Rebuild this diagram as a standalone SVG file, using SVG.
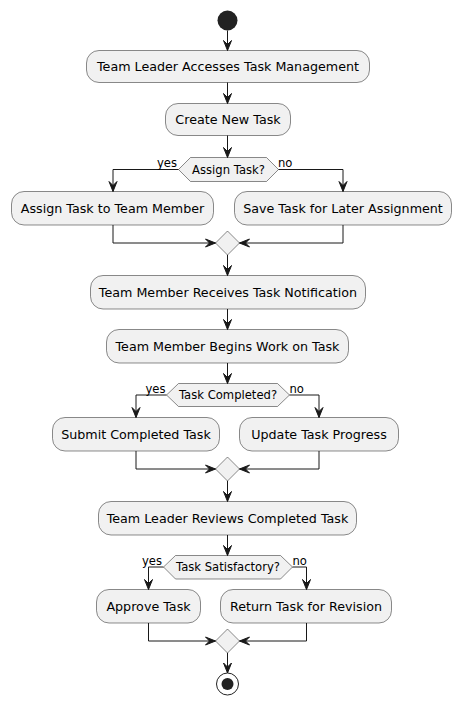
<svg xmlns="http://www.w3.org/2000/svg" width="461" height="705" viewBox="0 0 461 705">
<defs>
<style>
.box{fill:#F1F1F1;stroke:#181818;stroke-width:0.5}
.t{font-family:"DejaVu Sans",sans-serif;font-size:12.7px;fill:#000;text-anchor:middle}
.d{font-family:"DejaVu Sans",sans-serif;font-size:11.6px;fill:#000;text-anchor:middle}
.l{font-family:"DejaVu Sans",sans-serif;font-size:11.6px;fill:#000}
.c{fill:none;stroke:#181818;stroke-width:1}
.ah{fill:#181818;stroke:#181818;stroke-width:1}
</style>
</defs>
<rect width="461" height="705" fill="#FFFFFF"/>
<g id="start"><circle cx="227.5" cy="20.5" r="10" fill="#222222"/></g>
<g id="n1"><rect class="box" x="86.5" y="50.5" width="283" height="32" rx="12.5"/><text class="t" x="228" y="71">Team Leader Accesses Task Management</text></g>
<g id="n2"><rect class="box" x="165.5" y="103.5" width="125" height="32" rx="12.5"/><text class="t" x="228" y="124">Create New Task</text></g>
<g id="d1"><polygon class="box" points="178.5,169.5 190.5,157.5 266.5,157.5 278.5,169.5 266.5,181.5 190.5,181.5"/><text class="d" x="228.5" y="173.5">Assign Task?</text></g>
<g id="n3"><rect class="box" x="11.5" y="191.5" width="202" height="33.5" rx="12.5"/><text class="t" x="112.5" y="212.5">Assign Task to Team Member</text></g>
<g id="n4"><rect class="box" x="234.5" y="191.5" width="217" height="33.5" rx="12.5"/><text class="t" x="343" y="212.5">Save Task for Later Assignment</text></g>
<g id="m1"><polygon class="box" points="227.5,231 239.5,243 227.5,255 215.5,243"/></g>
<g id="n5"><rect class="box" x="90.5" y="275.5" width="275" height="33.5" rx="12.5"/><text class="t" x="228" y="296.5">Team Member Receives Task Notification</text></g>
<g id="n6"><rect class="box" x="106.5" y="329.5" width="242" height="33.5" rx="12.5"/><text class="t" x="227.5" y="350.5">Team Member Begins Work on Task</text></g>
<g id="d2"><polygon class="box" points="166.5,395 178.5,383.5 277.5,383.5 289.5,395 277.5,406.5 178.5,406.5"/><text class="d" x="228" y="399">Task Completed?</text></g>
<g id="n7"><rect class="box" x="52.5" y="417.5" width="167" height="33.5" rx="12.5"/><text class="t" x="136" y="438.5">Submit Completed Task</text></g>
<g id="n8"><rect class="box" x="239.5" y="417.5" width="159" height="33.5" rx="12.5"/><text class="t" x="319" y="438.5">Update Task Progress</text></g>
<g id="m2"><polygon class="box" points="227.5,457 239.5,469 227.5,481 215.5,469"/></g>
<g id="n9"><rect class="box" x="98.5" y="501.5" width="258" height="33.5" rx="12.5"/><text class="t" x="227.5" y="522.5">Team Leader Reviews Completed Task</text></g>
<g id="d3"><polygon class="box" points="163.5,567 175.5,555.5 280.5,555.5 292.5,567 280.5,579 175.5,579"/><text class="d" x="228" y="571">Task Satisfactory?</text></g>
<g id="n10"><rect class="box" x="96.5" y="589.5" width="104" height="33.5" rx="12.5"/><text class="t" x="148.5" y="610.5">Approve Task</text></g>
<g id="n11"><rect class="box" x="220.5" y="589.5" width="171" height="33.5" rx="12.5"/><text class="t" x="306" y="610.5">Return Task for Revision</text></g>
<g id="m3"><polygon class="box" points="227.5,629 239.5,641 227.5,653 215.5,641"/></g>
<g id="end"><circle cx="227.5" cy="684" r="11" fill="none" stroke="#222222" stroke-width="1"/><circle cx="227.5" cy="684" r="6" fill="#222222"/></g>
<g id="connectors">
<path class="c" d="M227.5,30.5 V50.5"/>
<polygon class="ah" points="223.5,40.5 227.5,50.5 231.5,40.5 227.5,44.5"/>
<path class="c" d="M227.5,82.5 V103.5"/>
<polygon class="ah" points="223.5,93.5 227.5,103.5 231.5,93.5 227.5,97.5"/>
<path class="c" d="M227.5,135.5 V157.5"/>
<polygon class="ah" points="223.5,147.5 227.5,157.5 231.5,147.5 227.5,151.5"/>
<path class="c" d="M178.5,169.5 H113 V191.5"/>
<polygon class="ah" points="109,181.5 113,191.5 117,181.5 113,185.5"/>
<path class="c" d="M278.5,169.5 H343 V191.5"/>
<polygon class="ah" points="339,181.5 343,191.5 347,181.5 343,185.5"/>
<text class="l" x="157" y="166.5">yes</text>
<text class="l" x="278" y="166.5">no</text>
<path class="c" d="M113,225 V243 H215.5"/>
<polygon class="ah" points="205.5,239 215.5,243 205.5,247 209.5,243"/>
<path class="c" d="M343,225 V243 H239.5"/>
<polygon class="ah" points="249.5,239 239.5,243 249.5,247 245.5,243"/>
<path class="c" d="M227.5,255 V275.5"/>
<polygon class="ah" points="223.5,265.5 227.5,275.5 231.5,265.5 227.5,269.5"/>
<path class="c" d="M227.5,309 V329.5"/>
<polygon class="ah" points="223.5,319.5 227.5,329.5 231.5,319.5 227.5,323.5"/>
<path class="c" d="M227.5,363 V383.5"/>
<polygon class="ah" points="223.5,373.5 227.5,383.5 231.5,373.5 227.5,377.5"/>
<path class="c" d="M166.5,395 H136 V417.5"/>
<polygon class="ah" points="132,407.5 136,417.5 140,407.5 136,411.5"/>
<path class="c" d="M289.5,395 H319 V417.5"/>
<polygon class="ah" points="315,407.5 319,417.5 323,407.5 319,411.5"/>
<text class="l" x="145.5" y="393">yes</text>
<text class="l" x="289.5" y="393">no</text>
<path class="c" d="M136,451 V469 H215.5"/>
<polygon class="ah" points="205.5,465 215.5,469 205.5,473 209.5,469"/>
<path class="c" d="M319,451 V469 H239.5"/>
<polygon class="ah" points="249.5,465 239.5,469 249.5,473 245.5,469"/>
<path class="c" d="M227.5,481 V501.5"/>
<polygon class="ah" points="223.5,491.5 227.5,501.5 231.5,491.5 227.5,495.5"/>
<path class="c" d="M227.5,535 V555.5"/>
<polygon class="ah" points="223.5,545.5 227.5,555.5 231.5,545.5 227.5,549.5"/>
<path class="c" d="M163.5,567 H148.5 V589.5"/>
<polygon class="ah" points="144.5,579.5 148.5,589.5 152.5,579.5 148.5,583.5"/>
<path class="c" d="M292.5,567 H306.5 V589.5"/>
<polygon class="ah" points="302.5,579.5 306.5,589.5 310.5,579.5 306.5,583.5"/>
<text class="l" x="142" y="565">yes</text>
<text class="l" x="292.5" y="565">no</text>
<path class="c" d="M148.5,623 V641 H215.5"/>
<polygon class="ah" points="205.5,637 215.5,641 205.5,645 209.5,641"/>
<path class="c" d="M306.5,623 V641 H239.5"/>
<polygon class="ah" points="249.5,637 239.5,641 249.5,645 245.5,641"/>
<path class="c" d="M227.5,653 V673"/>
<polygon class="ah" points="223.5,663 227.5,673 231.5,663 227.5,667"/>
</g>
</svg>
